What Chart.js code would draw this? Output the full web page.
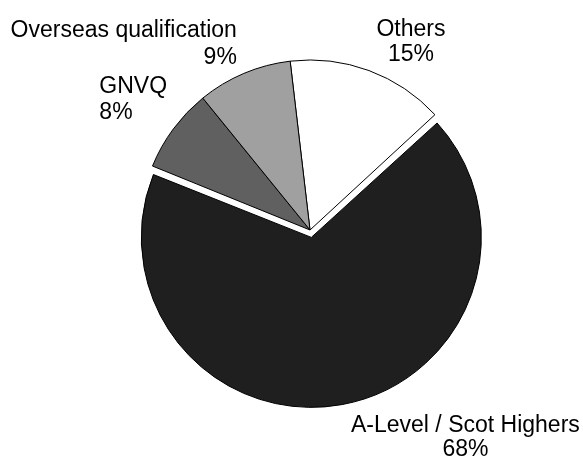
<!DOCTYPE html>
<html>
<head>
<meta charset="utf-8">
<script src="https://cdn.jsdelivr.net/npm/chart.js@4.4.1/dist/chart.umd.min.js"></script>
<style>
    html, body { margin: 0; padding: 0; background: #fff; }
    #wrap { width: 583px; height: 460px; position: relative; }
</style>
</head>
<body>
<div id="wrap"><canvas id="pieChart"></canvas></div>
<script>
const categories = ['Others', 'A-Level / Scot Highers', 'GNVQ', 'Overseas qualification'];
const shares = [15, 68, 8, 9];
const sliceColors = ['#ffffff', '#1f1f1f', '#606060', '#a0a0a0'];
const explode = [0, 30, 0, 0];

// where each label sits, relative to the outer edge of its slice (first baseline)
const labelPlacement = [
    { align: 'center', dx: 42, dy: -35, gap: 25.5 },
    { align: 'center', dx: 125, dy: 34.3, gap: 24.5 },
    { align: 'left', dx: -74, dy: -35.5, gap: 25.6 },
    { align: 'right', dx: -7, dy: -36, gap: 26.6 }
];

const sliceLabels = {
    id: 'sliceLabels',
    beforeDatasetsDraw(chart) {
        // chart.js grows an exploded big slice by its offset; keep it the same size as the rest
        chart.getDatasetMeta(0).data.forEach(arc => {
            const off = (arc.options.offset || 0) / 4;
            arc._shrink = off * (1 - Math.sin(Math.min(Math.PI, arc.circumference)));
            arc.outerRadius -= arc._shrink;
        });
    },
    afterDatasetsDraw(chart) {
        const meta = chart.getDatasetMeta(0);
        const r = meta.controller.outerRadius;
        const ctx = chart.ctx;
        meta.data.forEach(arc => { arc.outerRadius += arc._shrink || 0; });

        ctx.save();
        ctx.font = '23px "Liberation Sans", Arial, sans-serif';
        ctx.fillStyle = '#000';
        ctx.textBaseline = 'alphabetic';
        meta.data.forEach((arc, i) => {
            const mid = (arc.startAngle + arc.endAngle) / 2;
            const px = arc.x + Math.cos(mid) * r;
            const py = arc.y + Math.sin(mid) * r;
            const place = labelPlacement[i];
            ctx.textAlign = place.align;
            ctx.fillText(categories[i], px + place.dx, py + place.dy);
            ctx.fillText(shares[i] + '%', px + place.dx, py + place.dy + place.gap);
        });
        ctx.restore();
    }
};

new Chart(document.getElementById('pieChart'), {
    type: 'pie',
    data: {
        labels: categories,
        datasets: [{
            data: shares,
            backgroundColor: sliceColors,
            borderColor: '#000000',
            borderWidth: 1,
            offset: explode,
            hoverOffset: 0
        }]
    },
    options: {
        responsive: true,
        maintainAspectRatio: false,
        animation: false,
        events: [],
        rotation: -6.7,
        radius: 170,
        layout: {
            padding: { left: 37, right: 0, top: 0, bottom: 0 }
        },
        plugins: {
            legend: { display: false },
            tooltip: { enabled: false }
        }
    },
    plugins: [sliceLabels]
});
</script>
</body>
</html>
